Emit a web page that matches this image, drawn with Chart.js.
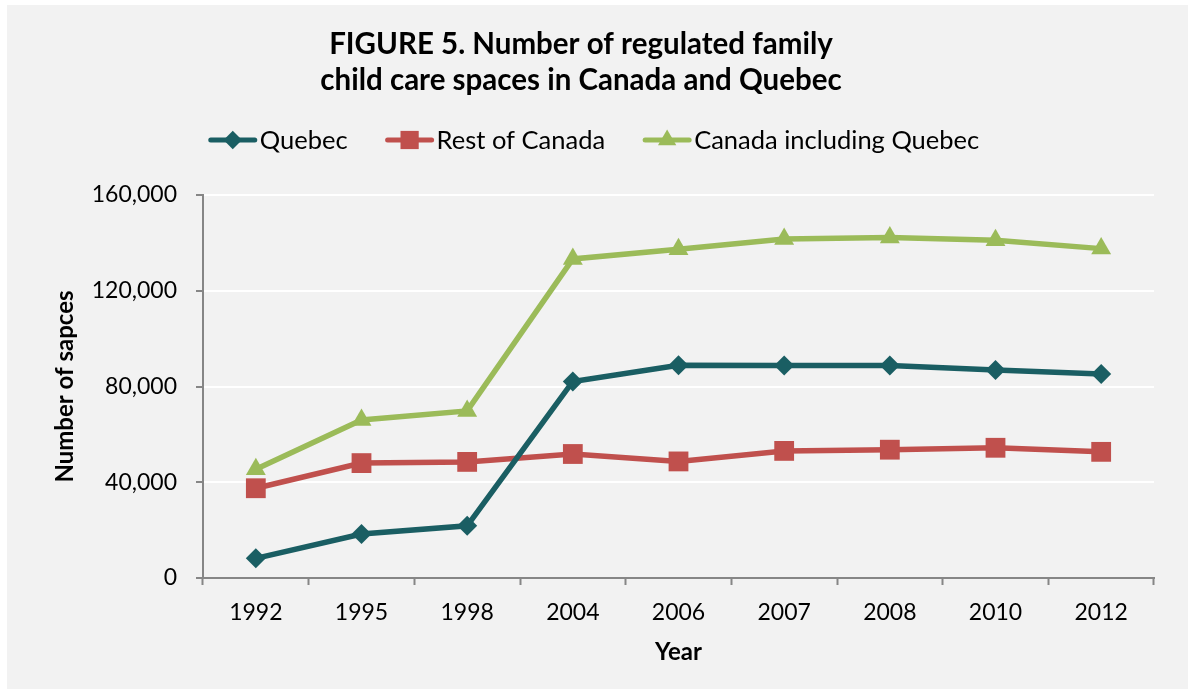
<!DOCTYPE html>
<html>
<head>
<meta charset="utf-8">
<script src="https://cdn.jsdelivr.net/npm/chart.js@4/dist/chart.umd.min.js"></script>
<style>
  html, body { margin: 0; padding: 0; background: #ffffff; }
  #wrap { position: absolute; left: 7px; top: 5px; width: 1181px; height: 684px; background: #f2f2f2; }
  canvas { display: block; }
</style>
</head>
<body>
<div id="wrap"><canvas id="c" width="1181" height="684"></canvas></div>
<script>
const titleLines = ['FIGURE 5. Number of regulated family', 'child care spaces in Canada and Quebec'];
const years = ['1992', '1995', '1998', '2004', '2006', '2007', '2008', '2010', '2012'];
const quebec = [8200, 18400, 21800, 82100, 88900, 88800, 88800, 86900, 85200];
const restOfCanada = [37500, 48000, 48500, 51800, 48700, 53100, 53600, 54400, 52700];
const canadaInclQuebec = [45400, 66000, 69800, 133300, 137300, 141600, 142200, 141100, 137600];
const seriesNames = ['Quebec', 'Rest of Canada', 'Canada including Quebec'];
const yTicks = [0, 40000, 80000, 120000, 160000];
const xTitle = 'Year';
const yTitle = 'Number of sapces';

const FONT = 'Lato, "Open Sans", sans-serif';
const colors = ['#1a5e63', '#c0504d', '#9bbb59'];
const shapes = ['rectRot', 'rect', 'triangle'];
const radii = [10, 14, 11.5];

function drawMarker(ctx, shape, x, y, r, color) {
  ctx.save();
  ctx.fillStyle = color;
  ctx.beginPath();
  if (shape === 'rectRot') {
    ctx.moveTo(x, y - r); ctx.lineTo(x + r, y); ctx.lineTo(x, y + r); ctx.lineTo(x - r, y);
  } else if (shape === 'rect') {
    const s = r * Math.SQRT1_2;
    ctx.rect(x - s, y - s, 2 * s, 2 * s);
  } else {
    const a = 2 * Math.PI / 3;
    ctx.moveTo(x, y - r);
    ctx.lineTo(x + Math.sin(a) * r, y - Math.cos(a) * r);
    ctx.lineTo(x + Math.sin(2 * a) * r, y - Math.cos(2 * a) * r);
  }
  ctx.closePath();
  ctx.fill();
  ctx.restore();
}

const decor = {
  id: 'decor',
  afterDraw(chart) {
    const ctx = chart.ctx;
    ctx.save();
    // title
    ctx.fillStyle = '#000';
    ctx.textAlign = 'center';
    ctx.textBaseline = 'middle';
    ctx.font = 'bold 29.5px ' + FONT;
    ctx.fillText(titleLines[0], 574, 39);
    ctx.fillText(titleLines[1], 574, 75);
    // legend
    ctx.font = '25.5px ' + FONT;
    const lineLen = 48, textGap = 3, itemGap = 38;
    const widths = seriesNames.map(n => ctx.measureText(n).width);
    let total = 0;
    widths.forEach((w, i) => { total += lineLen + textGap + w + (i < widths.length - 1 ? itemGap : 0); });
    let x = 587 - total / 2;
    const ly = 135;
    ctx.textAlign = 'left';
    seriesNames.forEach((n, i) => {
      ctx.strokeStyle = colors[i];
      ctx.lineWidth = 5;
      ctx.lineCap = 'round';
      ctx.beginPath();
      ctx.moveTo(x + 2, ly); ctx.lineTo(x + lineLen - 2, ly);
      ctx.stroke();
      drawMarker(ctx, shapes[i], x + lineLen / 2, ly, radii[i] * 0.92, colors[i]);
      ctx.fillStyle = '#000';
      ctx.fillText(n, x + lineLen + textGap, ly + 1);
      x += lineLen + textGap + widths[i] + itemGap;
    });
    ctx.restore();
  }
};

const datasets = [quebec, restOfCanada, canadaInclQuebec].map((d, i) => ({
  label: seriesNames[i],
  data: d,
  borderColor: colors[i],
  backgroundColor: colors[i],
  borderWidth: 5.5,
  pointStyle: shapes[i],
  pointRadius: radii[i],
  pointBorderWidth: 0,
  pointBackgroundColor: colors[i],
  pointBorderColor: colors[i],
  tension: 0,
  fill: false
}));

new Chart(document.getElementById('c'), {
  type: 'line',
  data: { labels: years, datasets: datasets },
  options: {
    responsive: false,
    animation: false,
    events: [],
    layout: { padding: { top: 190, right: 34, left: 0, bottom: 0 } },
    plugins: { legend: { display: false }, title: { display: false }, tooltip: { enabled: false } },
    scales: {
      x: {
        type: 'category',
        offset: true,
        afterFit: s => { s.height = 111; },
        grid: { display: true, offset: true, drawOnChartArea: false, drawTicks: true, tickLength: 7, tickColor: '#868686', tickWidth: 2 },
        border: { display: true, color: '#868686', width: 2 },
        ticks: { color: '#000', font: { family: FONT, size: 23 }, padding: 14, maxRotation: 0 },
        title: { display: true, text: xTitle, color: '#000', font: { family: FONT, size: 24, weight: 'bold' }, padding: { top: 0, bottom: 22 } }
      },
      y: {
        min: 0, max: 160000,
        afterFit: s => { s.width = 196; },
        afterBuildTicks: s => { s.ticks = yTicks.map(v => ({ value: v })); },
        grid: {
          color: c => (c.tick && c.tick.value === 0) ? 'rgba(0,0,0,0)' : '#ffffff',
          lineWidth: 2, drawTicks: true, tickLength: 7, tickColor: '#868686', tickWidth: 2
        },
        border: { display: true, color: '#868686', width: 2 },
        ticks: { color: '#000', font: { family: FONT, size: 23 }, padding: 19,
          callback: v => v.toLocaleString('en-US') },
        title: { display: true, text: yTitle, color: '#000', font: { family: FONT, size: 24, weight: 'bold' }, padding: { top: 44, bottom: 0 } }
      }
    }
  },
  plugins: [decor]
});
</script>
</body>
</html>
